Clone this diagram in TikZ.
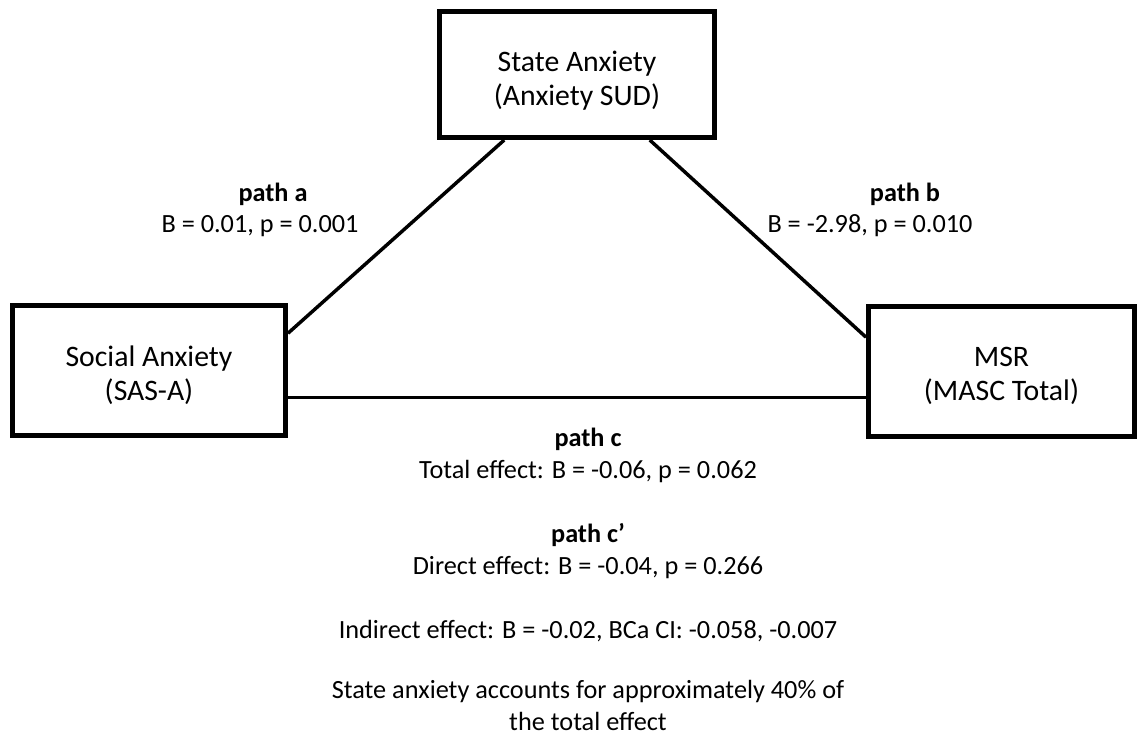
\documentclass[tikz,border=0pt]{standalone}
\usepackage{fontspec}
\setmainfont{Carlito}

\tikzset{every picture/.style={line width=0.75pt}}
\tikzset{
  varbox/.style={draw, line width=3.75pt, inner sep=0pt, align=center, text depth=0pt,
    font=\fontsize{22.3}{25.5}\selectfont},
  pathline/.style={line width=2.6pt},
  lbl/.style={anchor=base, inner sep=0.75pt, font=\fontsize{19.7}{24}\selectfont},
  lblhead/.style={lbl, font=\fontsize{19.7}{24}\selectfont\bfseries},
}

\begin{document}
\begin{tikzpicture}[x=0.75pt,y=0.75pt,yscale=-1,xscale=1]
	\useasboundingbox (0,0) rectangle (1139,738);
	
	%Boxes
	\node (state) [varbox, text height=47.25pt, minimum width=206.25pt, minimum height=94.5pt] at (577,74.5) {State Anxiety\\(Anxiety SUD)};
	\node (social) [varbox, text height=44.25pt, minimum width=204.75pt, minimum height=97.5pt] at (149,370.5) {Social Anxiety\\(SAS-A)};
	\node (msr) [varbox, text height=43.5pt, minimum width=199.5pt, minimum height=97.5pt] at (1001.5,371) {MSR\\(MASC Total)};
	
	%Paths
	\draw [pathline] (social.15) -- (state.222) ;
	\draw [pathline] (state.318) -- (msr.166) ;
	\draw [pathline] (social.349) -- (social.349 -| msr.west) ;
	
	%Labels
	\node (patha) [lblhead] at (273,202) {path a};
	\node (coefa) [lbl] at (260,233) {B = 0.01, p = 0.001};
	\node (pathb) [lblhead] at (905,202) {path b};
	\node (coefb) [lbl] at (870,233) {B = -2.98, p = 0.010};
	
	\node (pathc) [lblhead] at (588,446) {path c};
	\node (totalc) [lbl] at (588,478) {Total effect: B = -0.06, p = 0.062};
	\node (pathcp) [lblhead] at (588,542) {path c’};
	\node (directc) [lbl] at (588,574) {Direct effect: B = -0.04, p = 0.266};
	\node (indirect) [lbl] at (588,638) {Indirect effect: B = -0.02, BCa CI: -0.058, -0.007};
	\node (share) [lbl, align=center, text depth=0pt] at (588,730) {State anxiety accounts for approximately 40\% of\\the total effect};
	
\end{tikzpicture}
\end{document}
